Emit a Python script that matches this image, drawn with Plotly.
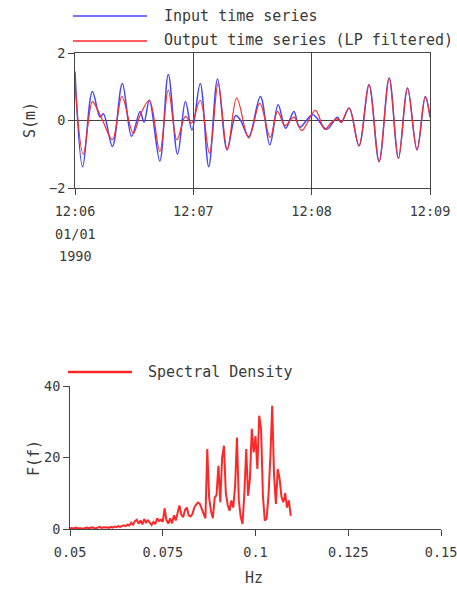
import plotly.graph_objects as go
import pandas as pd

W, H = 457, 593

# ---- data: time series (seconds after 12:06:00) ----
t_in = [0, 3.9, 8.8, 12.7, 14.4, 19, 24, 28.7, 33, 35, 37.7, 43, 47.3, 52, 56,
        59.3, 63.5, 67.8, 72.3, 77.1, 81.5, 84, 88.1, 94, 98.8, 103, 106.8, 111,
        113.9, 120.5, 127.6, 133, 135, 139, 144, 149.1, 154.2, 159.3, 164, 168.6,
        173.4, 177.6, 180]
v_in = [1.45, -1.37, 0.86, 0.1, 0.2, -0.77, 1.1, -0.47, 0.27, -0.05, 0.6, -1.2,
        1.36, -1.0, 0.56, -0.28, 1.1, -1.37, 1.23, -0.87, 0.15, 0.0, -0.48, 0.71,
        -0.72, 0.47, -0.23, 0.27, -0.2, 0.17, -0.26, 0.1, -0.06, 0.37, -0.75, 1.06,
        -1.22, 1.26, -1.12, 0.96, -0.87, 0.71, 0.1]
t_out = [0, 4.2, 8.8, 11, 14, 19, 23.8, 29.5, 33, 37.7, 43, 47.3, 51.7, 56, 59,
         63.5, 68.2, 72.6, 77.2, 82, 88.1, 93.7, 99, 102.7, 106.5, 111, 115, 121.9,
         126.6, 130, 133, 135, 139, 144, 149.1, 154.2, 159.3, 164, 168.6, 173.4,
         177.6, 180]
v_out = [1.1, -1.0, 0.56, 0.37, 0.0, -0.57, 0.71, -0.38, 0.15, 0.6, -0.92, 0.9,
         -0.57, 0.12, -0.08, 0.6, -0.97, 1.1, -0.87, 0.66, -0.52, 0.51, -0.5, 0.27,
         -0.15, 0.1, -0.3, 0.3, -0.26, -0.05, 0.05, -0.05, 0.37, -0.75, 1.06, -1.22,
         1.26, -1.12, 0.96, -0.87, 0.71, 0.1]

# ---- data: spectrum ----
freq_start, freq_step = 0.05, 0.0005
spec = [
    0.2, 0.3, 0.1, 0.4, 0.2, 0.3, 0.2, 0.1, 0.3, 0.4,
    0.2, 0.3, 0.5, 0.3, 0.2, 0.4, 0.6, 0.3, 0.5, 0.4,
    0.5, 0.3, 0.6, 0.4, 0.7, 0.5, 0.8, 0.6, 0.9, 1.0,
    0.8, 1.2, 1.0, 1.8, 1.2, 2.2, 2.6, 1.5, 2.4, 1.3,
    2.8, 1.8, 2.4, 1.6, 1.1, 2.0, 1.4, 3.0, 2.2, 2.6,
    2.0, 5.8, 2.5, 1.5, 3.0, 1.6, 3.8, 2.4, 4.6, 6.6,
    4.0, 3.3, 5.3, 6.0, 3.8, 3.5, 4.2, 6.0, 6.8, 7.4,
    7.0, 5.5, 4.0, 3.0, 22.4, 8.8, 5.0, 3.0, 8.8, 9.5,
    17.7, 7.5, 20.0, 23.3, 10.0, 6.8, 5.1, 8.0, 6.0, 12.0,
    25.6, 8.0, 3.5, 1.4, 10.0, 22.4, 9.3, 14.0, 28.0, 21.4,
    26.0, 16.8, 31.7, 28.0, 9.3, 2.3, 3.0, 9.3, 20.0, 34.5,
    15.0, 7.0, 16.8, 14.0, 9.0, 7.5, 10.0, 6.0, 8.0, 3.7]
freq = [round(freq_start + freq_step * i, 5) for i in range(len(spec))]

time_ticks = ["12:06", "12:07", "12:08", "12:09"]
freq_ticks = [0.05, 0.075, 0.1, 0.125, 0.15]
freq_ticktext = ["0.05", "0.075", "0.1", "0.125", "0.15"]

base = pd.Timestamp("1990-01-01 12:06:00")
x_in = [base + pd.Timedelta(seconds=s) for s in t_in]
x_out = [base + pd.Timedelta(seconds=s) for s in t_out]
tick_times = [pd.Timestamp("1990-01-01 " + t) for t in time_ticks]

def px(x):
    return x / W

def py(y):
    return 1 - y / H

FONT = "DejaVu Sans Mono"
TXT = "#3a3a3a"
AX = "#444444"
BLUE = "rgb(70,70,255)"
RED = "rgb(255,40,40)"

fig = go.Figure()
fig.add_trace(go.Scatter(x=x_in, y=v_in, mode="lines", line=dict(color=BLUE, width=1.5, shape="spline", smoothing=1.0),
                         xaxis="x", yaxis="y", showlegend=False, name="Input time series"))
fig.add_trace(go.Scatter(x=x_out, y=v_out, mode="lines", line=dict(color=RED, width=1.2, shape="spline", smoothing=1.0),
                         xaxis="x", yaxis="y", showlegend=False, name="Output time series (LP filtered)"))
fig.add_trace(go.Scatter(x=freq, y=spec, mode="lines", line=dict(color=RED, width=2),
                         xaxis="x2", yaxis="y2", showlegend=False, name="Spectral Density"))

tickfont = dict(family=FONT, size=13.5, color=TXT)
fig.update_layout(
    width=W, height=H,
    margin=dict(l=0, r=0, t=0, b=0, pad=0, autoexpand=False),
    paper_bgcolor="white", plot_bgcolor="white",
    xaxis=dict(domain=[px(75), px(430)], anchor="y", type="date", automargin=False,
               range=[tick_times[0], tick_times[-1]],
               tickvals=tick_times, ticktext=time_ticks, ticklabelstandoff=5,
               ticklabeloverflow="allow",
               showgrid=True, gridcolor=AX, gridwidth=1,
               showline=True, linecolor=AX, linewidth=1, mirror=True,
               ticks="outside", ticklen=6, tickcolor=AX, tickfont=tickfont),
    yaxis=dict(domain=[py(188), py(53)], anchor="x", range=[-2, 2], automargin=False,
               tickvals=[-2, 0, 2], showgrid=False,
               zeroline=True, zerolinecolor=AX, zerolinewidth=1,
               showline=True, linecolor=AX, linewidth=1, mirror=True,
               ticks="outside", ticklen=6, tickcolor=AX, tickfont=tickfont),
    xaxis2=dict(domain=[px(70), px(441)], anchor="y2", range=[0.05, 0.15], automargin=False,
                tickvals=freq_ticks, ticktext=freq_ticktext, ticklabelstandoff=5,
                ticklabeloverflow="allow", showgrid=False, zeroline=False,
                showline=True, linecolor=AX, linewidth=1,
                ticks="outside", ticklen=6, tickcolor=AX, tickfont=tickfont),
    yaxis2=dict(domain=[py(529), py(386)], anchor="x2", range=[0, 40], automargin=False,
                tickvals=[0, 20, 40], showgrid=False, zeroline=False,
                showline=True, linecolor=AX, linewidth=1,
                ticks="outside", ticklen=6, tickcolor=AX, tickfont=tickfont),
)

# legend-like decorations
shapes = [
    dict(type="line", xref="paper", yref="paper", x0=px(73), x1=px(147), y0=py(16), y1=py(16),
         line=dict(color=BLUE, width=1.5)),
    dict(type="line", xref="paper", yref="paper", x0=px(73), x1=px(147), y0=py(41), y1=py(41),
         line=dict(color=RED, width=1.5)),
    dict(type="line", xref="paper", yref="paper", x0=px(68), x1=px(132), y0=py(372), y1=py(372),
         line=dict(color=RED, width=2.5)),
]
fig.update_layout(shapes=shapes)

lf = dict(family=FONT, size=15, color=TXT)
ann = [
    dict(text="Input time series", x=px(162), y=py(16), xanchor="left", yanchor="middle", font=lf),
    dict(text="Output time series (LP filtered)", x=px(162), y=py(40), xanchor="left", yanchor="middle", font=lf),
    dict(text="Spectral Density", x=px(146), y=py(372), xanchor="left", yanchor="middle", font=lf),
    dict(text="S(m)", x=px(30), y=py(120), textangle=-90, xanchor="center", yanchor="middle",
         font=dict(family=FONT, size=15, color=TXT)),
    dict(text="F(f)", x=px(34), y=py(458), textangle=-90, xanchor="center", yanchor="middle",
         font=dict(family=FONT, size=15, color=TXT)),
    dict(text="Hz", x=px(254), y=py(578), xanchor="center", yanchor="middle",
         font=dict(family=FONT, size=15, color=TXT)),
    dict(text="01/01", x=px(75), y=py(234), xanchor="center", yanchor="middle", font=tickfont),
    dict(text="1990", x=px(75), y=py(256), xanchor="center", yanchor="middle", font=tickfont),
]
for a in ann:
    a.update(xref="paper", yref="paper", showarrow=False)
fig.update_layout(annotations=ann)

fig.write_html("out.html", config={"displayModeBar": False},
               post_script="document.body.style.margin='0px';")
